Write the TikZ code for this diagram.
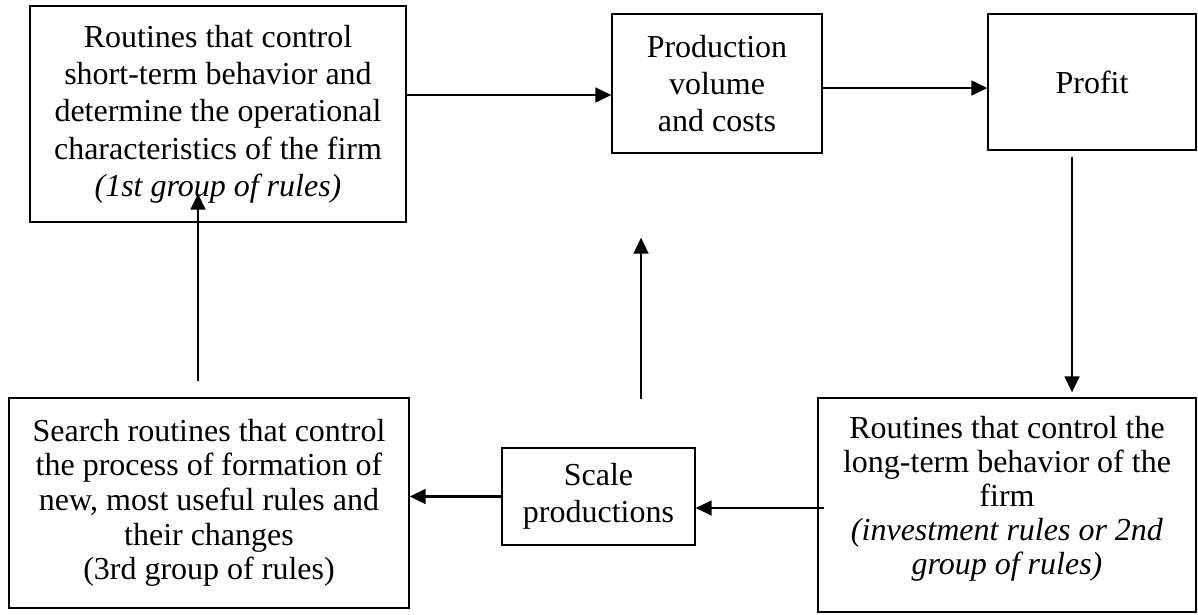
\documentclass[tikz,border=0pt]{standalone}
\usepackage{fontspec}
\setmainfont{Liberation Serif}
\usetikzlibrary{arrows.meta}
\tikzset{
  box/.style={draw, line width=0.9pt, inner sep=0pt, align=center, font=\fontsize{24}{28}\selectfont},
  arr/.style={line width=1.8pt, -{Triangle[length=12pt,width=11pt]}}
}
\begin{document}
\begin{tikzpicture}[x=0.75pt,y=-0.75pt]
\useasboundingbox (0,0) rectangle (1198,614);
\node[box, minimum width=282pt, minimum height=162pt] (b1) at (218,114)
  {Routines that control\\short-term behavior and\\determine the operational\\characteristics of the firm\\\textit{(1st group of rules)}};
\node[box, minimum width=157.5pt, minimum height=104.25pt] (b2) at (717,83.5)
  {Production\\volume\\and costs};
\node[box, minimum width=156pt, minimum height=102pt] (b3) at (1092,82)
  {Profit};
\node[box, minimum width=283.5pt, minimum height=160.5pt, font=\fontsize{24}{25.5}\selectfont] (b4) at (1007,505)
  {Routines that control the\\long-term behavior of the\\firm\\\textit{(investment rules or 2nd}\\\textit{group of rules)}\\[-10.5pt]};
\node[box, minimum width=144.75pt, minimum height=72.75pt] (b5) at (598.5,496.5)
  {Scale\\productions};
\node[box, minimum width=300pt, minimum height=157.5pt, font=\fontsize{24}{26}\selectfont] (b6) at (209,503)
  {Search routines that control\\the process of formation of\\new, most useful rules and\\their changes\\(3rd group of rules)};
% b1 -> b2
\coordinate (p1) at ([yshift=14.25pt]b1.east);
\draw[arr] (p1) -- (p1 -| b2.west);
% b2 -> b3
\coordinate (p2) at ([yshift=-3.4pt]b2.east);
\draw[arr] (p2) -- (p2 -| b3.west);
% b3 -> b4
\coordinate (p3) at ([xshift=-15pt,yshift=-4.5pt]b3.south);
\draw[arr, shorten >=3.75pt] (p3) -- (p3 |- b4.north);
% b4 -> b5
\coordinate (p4) at ([xshift=5pt,yshift=-2.25pt]b4.west);
\draw[arr] (p4) -- (p4 -| b5.east);
% b5 -> b6
\draw[arr] (b5.west) -- (b5.west -| b6.east);
% free up arrow towards b2
\coordinate (u0) at ([xshift=31.9pt,yshift=36pt]b5.north);
\coordinate (u1) at ([yshift=-63pt]b2.south);
\draw[arr] (u0) -- (u0 |- u1);
% b6 -> b1
\coordinate (q0) at ([xshift=-8.25pt,yshift=12pt]b6.north);
\coordinate (q1) at ([yshift=21.75pt]b1.south);
\draw[arr] (q0) -- (q0 |- q1);
\end{tikzpicture}
\end{document}
